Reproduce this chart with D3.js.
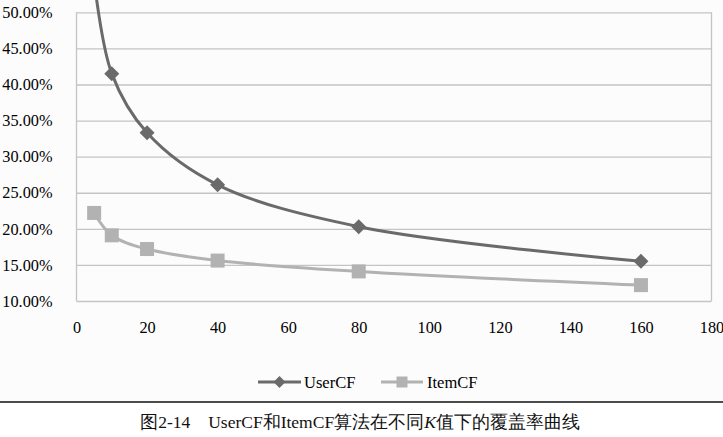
<!DOCTYPE html>
<html><head><meta charset="utf-8">
<script src="https://cdn.jsdelivr.net/npm/d3@7"></script>
<style>body{margin:0;background:#fff}svg{display:block}text{font-family:"Liberation Serif","DejaVu Serif",serif}</style>
</head><body>
<svg id="c" width="723" height="437"></svg>
<script>
const kValues = [5, 10, 20, 40, 80, 160];
const userCF = [0.545, 0.415, 0.333, 0.261, 0.203, 0.155];
const itemCF = [0.222, 0.191, 0.172, 0.156, 0.141, 0.122];
const xTicks = [0, 20, 40, 60, 80, 100, 120, 140, 160, 180];
const yTicks = [0.10, 0.15, 0.20, 0.25, 0.30, 0.35, 0.40, 0.45, 0.50];
const seriesNames = ["UserCF", "ItemCF"];
const caption = ["图2-14", "UserCF和ItemCF算法在不同", "K", "值下的覆盖率曲线"];

const svg = d3.select("#c");
const serif = '"Liberation Serif","DejaVu Serif",serif';
const cjk = '"Liberation Serif","Noto Sans CJK SC",serif';
const cUser = "#6a6a6a", cItem = "#b2b2b2", cGrid = "#c4c4c4";

svg.append("rect").attr("width", 723).attr("height", 401).attr("fill", "#fcfcfc");

const x = d3.scaleLinear().domain([0, 180]).range([76.5, 711.5]);
const y = d3.scaleLinear().domain([0.10, 0.50]).range([301, 12.3]);

const yAxis = d3.axisLeft(y).tickValues(yTicks).tickFormat(d3.format(".2%"))
  .tickSize(-(x.range()[1] - x.range()[0])).tickPadding(24);
const gy = svg.append("g").attr("transform", `translate(${x.range()[0]},0)`).call(yAxis);
gy.select(".domain").remove();
gy.selectAll(".tick line").attr("stroke", cGrid).attr("stroke-width", 1.3);
gy.selectAll(".tick text").attr("font-family", serif).attr("font-size", 16.3).attr("fill", "#000").attr("x", -24);

const xAxis = d3.axisBottom(x).tickValues(xTicks).tickSize(0).tickPadding(20);
const gx = svg.append("g").attr("transform", `translate(0,${y.range()[0]})`).call(xAxis);
gx.select(".domain").remove();
gx.selectAll(".tick text").attr("font-family", serif).attr("font-size", 16.3).attr("fill", "#000");

[x.range()[0], x.range()[1]].forEach(px => {
  svg.append("line").attr("x1", px).attr("x2", px).attr("y1", y.range()[1]).attr("y2", y.range()[0])
    .attr("stroke", cGrid).attr("stroke-width", 1.3);
});

const line = d3.line().x(d => x(d[0])).y(d => y(d[1])).curve(d3.curveCatmullRom.alpha(0.5));
const uData = kValues.map((k, i) => [k, userCF[i]]);
const iData = kValues.map((k, i) => [k, itemCF[i]]);

svg.append("path").datum(iData).attr("d", line).attr("fill", "none").attr("stroke", cItem).attr("stroke-width", 3);
svg.append("path").datum(uData).attr("d", line).attr("fill", "none").attr("stroke", cUser).attr("stroke-width", 3);

const diamond = s => `M0,${-s}L${s},0L0,${s}L${-s},0Z`;
svg.selectAll(".sq").data(iData).join("rect")
  .attr("x", d => x(d[0]) - 7).attr("y", d => y(d[1]) - 7).attr("width", 14).attr("height", 14).attr("fill", cItem);
svg.selectAll(".dm").data(uData).join("path")
  .attr("transform", d => `translate(${x(d[0])},${y(d[1])})`).attr("d", diamond(7.5)).attr("fill", cUser);

const ly = 382;
const lg = svg.append("g");
lg.append("line").attr("x1", 258).attr("x2", 301).attr("y1", ly).attr("y2", ly).attr("stroke", cUser).attr("stroke-width", 3);
lg.append("path").attr("transform", `translate(279.5,${ly})`).attr("d", diamond(6)).attr("fill", cUser);
lg.append("text").attr("x", 304).attr("y", ly + 5.5).attr("font-family", serif).attr("font-size", 16.5).text(seriesNames[0]);
lg.append("line").attr("x1", 381).attr("x2", 423).attr("y1", ly).attr("y2", ly).attr("stroke", cItem).attr("stroke-width", 3);
lg.append("rect").attr("x", 396.5).attr("y", ly - 5.5).attr("width", 11).attr("height", 11).attr("fill", cItem);
lg.append("text").attr("x", 427).attr("y", ly + 5.5).attr("font-family", serif).attr("font-size", 16.5).text(seriesNames[1]);

svg.append("line").attr("x1", 0).attr("x2", 723).attr("y1", 402).attr("y2", 402).attr("stroke", "#111").attr("stroke-width", 1.5);

const cap = svg.append("text").attr("x", 360).attr("y", 428).attr("text-anchor", "middle")
  .attr("font-family", cjk).attr("font-size", 17.5).attr("fill", "#111");
cap.append("tspan").text(caption[0]);
cap.append("tspan").attr("dx", 18).text(caption[1]);
cap.append("tspan").attr("font-style", "italic").text(caption[2]);
cap.append("tspan").text(caption[3]);
</script>
</body></html>
